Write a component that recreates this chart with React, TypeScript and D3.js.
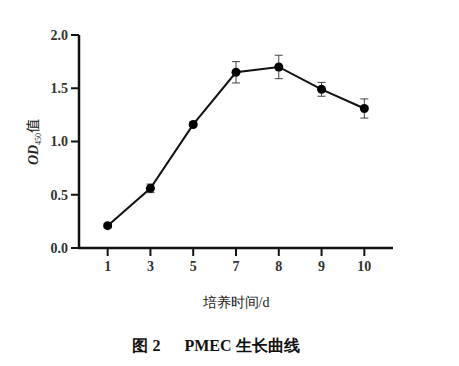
import React, { useEffect, useRef } from "react"
import * as d3 from "d3"

// growth curve of PMEC, OD450 by culture day
const days = ["1", "3", "5", "7", "8", "9", "10"]
const odMean = [0.21, 0.56, 1.16, 1.65, 1.70, 1.49, 1.31]
const odSd = [0.02, 0.04, 0.02, 0.10, 0.11, 0.065, 0.09]
const yTicks = [0, 0.5, 1.0, 1.5, 2.0]

const font = "'Liberation Serif', 'DejaVu Serif', serif"
const cjk = "'Noto Sans CJK SC', serif"

function App() {
  const ref = useRef<SVGSVGElement>(null)

  useEffect(() => {
    const svg = d3.select(ref.current)
    svg.selectAll("*").remove()

    const left = 79, right = 393, top = 35, bottom = 248

    const x = d3.scalePoint<string>().domain(days).range([left, right]).padding(0.67)
    const y = d3.scaleLinear().domain([0, 2]).range([bottom, top])

    const g = svg.append("g")

    // y axis
    g.append("line")
      .attr("x1", left).attr("x2", left)
      .attr("y1", top).attr("y2", bottom + 1)
      .attr("stroke", "#111").attr("stroke-width", 2.5)
    yTicks.forEach(t => {
      g.append("line")
        .attr("x1", left - 8).attr("x2", left)
        .attr("y1", y(t)).attr("y2", y(t))
        .attr("stroke", "#111").attr("stroke-width", 2)
      g.append("text")
        .attr("x", left - 11).attr("y", y(t))
        .attr("text-anchor", "end").attr("dy", "0.35em")
        .attr("font-family", font).attr("font-size", 14).attr("font-weight", "bold")
        .attr("fill", "#333")
        .text(t.toFixed(1))
    })

    // x axis
    g.append("line")
      .attr("x1", left - 1).attr("x2", right)
      .attr("y1", bottom).attr("y2", bottom)
      .attr("stroke", "#111").attr("stroke-width", 2.5)
    days.forEach(d => {
      g.append("line")
        .attr("x1", x(d)!).attr("x2", x(d)!)
        .attr("y1", bottom).attr("y2", bottom + 8)
        .attr("stroke", "#111").attr("stroke-width", 2)
      g.append("text")
        .attr("x", x(d)!).attr("y", bottom + 23)
        .attr("text-anchor", "middle")
        .attr("font-family", font).attr("font-size", 14).attr("font-weight", "bold")
        .attr("fill", "#333")
        .text(d)
    })

    // axis titles
    g.append("text")
      .attr("x", 236).attr("y", 307)
      .attr("text-anchor", "middle")
      .attr("font-family", font).attr("font-size", 14)
      .attr("fill", "#222")
      .text("培养时间/d")

    const yt = g.append("text")
      .attr("transform", `translate(38,142) rotate(-90)`)
      .attr("text-anchor", "middle")
      .attr("font-family", font).attr("font-size", 14)
      .attr("fill", "#222")
    yt.append("tspan").attr("font-style", "italic").attr("font-weight", "bold").text("OD")
    yt.append("tspan").attr("font-size", 8).attr("dy", 3).text("450")
    yt.append("tspan").attr("dy", -3).attr("font-family", cjk).text("值")

    const data = days.map((d, i) => ({ d, m: odMean[i], s: odSd[i] }))

    // error bars
    data.forEach(p => {
      const cx = x(p.d)!
      g.append("line")
        .attr("x1", cx).attr("x2", cx)
        .attr("y1", y(p.m - p.s)).attr("y2", y(p.m + p.s))
        .attr("stroke", "#444").attr("stroke-width", 1)
      ;[p.m - p.s, p.m + p.s].forEach(v => {
        g.append("line")
          .attr("x1", cx - 4).attr("x2", cx + 4)
          .attr("y1", y(v)).attr("y2", y(v))
          .attr("stroke", "#444").attr("stroke-width", 1)
      })
    })

    // line
    const line = d3.line<{ d: string; m: number }>()
      .x(p => x(p.d)!)
      .y(p => y(p.m))
    g.append("path")
      .datum(data)
      .attr("d", line)
      .attr("fill", "none")
      .attr("stroke", "#111").attr("stroke-width", 2)

    // points
    g.selectAll(".pt")
      .data(data)
      .enter()
      .append("circle")
      .attr("cx", p => x(p.d)!)
      .attr("cy", p => y(p.m))
      .attr("r", 4.5)
      .attr("fill", "#000")

    // caption
    g.append("text")
      .attr("x", 216).attr("y", 351)
      .attr("text-anchor", "middle")
      .attr("font-family", font).attr("font-size", 16).attr("font-weight", "bold")
      .attr("fill", "#111")
      .text("图 2\u2003\u2002PMEC 生长曲线")
  }, [])

  return <svg ref={ref} width={459} height={366} style={{ position: "absolute", left: 0, top: 0 }}></svg>
}

export default App
